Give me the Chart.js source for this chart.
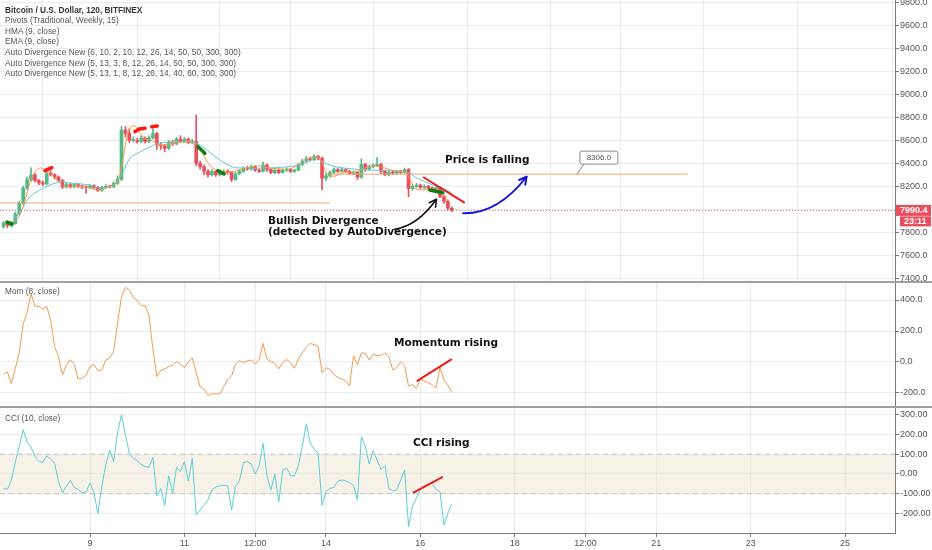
<!DOCTYPE html>
<html lang="en">
<head>
<meta charset="UTF-8">
<title>Bitcoin / U.S. Dollar, 120, BITFINEX</title>
<script src="https://cdn.jsdelivr.net/npm/chart.js"></script>
<style>
  body { margin: 0; background: #fff; width: 932px; height: 550px; overflow: hidden; position: relative;
         font-family: "Liberation Sans", Arial, sans-serif; }
  canvas { position: absolute; left: 0; }
  .sep { position: absolute; left: 0; width: 932px; height: 2px; background: #a0a0a0; }
  .txt { position: absolute; white-space: nowrap; }
  .legend { left: 5px; top: 4.7px; font-size: 8.3px; line-height: 10.6px; color: #555; }
  .legend b { color: #333; }
  .pane { left: 5px; font-size: 8.3px; color: #555; }
  .note { font-family: "DejaVu Sans", Verdana, sans-serif; font-weight: bold; font-size: 10.5px;
          line-height: 11px; color: #111; }
</style>
</head>
<body>
<canvas id="priceChart" width="932" height="282" style="top:0"></canvas>
<canvas id="momChart" width="932" height="123" style="top:283px"></canvas>
<canvas id="cciChart" width="932" height="142" style="top:408px"></canvas>
<div class="sep" style="top:281px"></div>
<div class="sep" style="top:406px"></div>

<div class="txt legend">
  <b>Bitcoin / U.S. Dollar, 120, BITFINEX</b><br>
  Pivots (Traditional, Weekly, 15)<br>
  HMA (9, close)<br>
  EMA (9, close)<br>
  Auto Divergence New (6, 10, 2, 10, 12, 26, 14, 50, 50, 300, 300)<br>
  Auto Divergence New (5, 13, 3, 8, 12, 26, 14, 50, 50, 300, 300)<br>
  Auto Divergence New (5, 13, 1, 8, 12, 26, 14, 40, 60, 300, 300)
</div>
<div class="txt pane" style="top:286px">Mom (8, close)</div>
<div class="txt pane" style="top:413px">CCI (10, close)</div>

<div class="txt note" style="left:445px; top:154px">Price is falling</div>
<div class="txt note" style="left:268px; top:215px">Bullish Divergence<br>(detected by AutoDivergence)</div>
<div class="txt note" style="left:394px; top:337px">Momentum rising</div>
<div class="txt note" style="left:413px; top:437px">CCI rising</div>

<script>
// 2h candles, index 0 = Mar 7 04:00, index 22 = Mar 9 00:00
const firstOpen = 7850;
const closes = [
  7880, 7860, 7875, 7960, 8050, 8185, 8255, 8300, 8250, 8230,
  8220, 8310, 8300, 8280, 8250, 8195, 8215, 8195, 8215, 8200,
  8195, 8190, 8205, 8190, 8165, 8190, 8200, 8195, 8225, 8260,
  8690, 8660, 8600, 8600, 8590, 8620, 8590, 8620, 8660, 8560,
  8550, 8530, 8580, 8570, 8610, 8590, 8610, 8580, 8590, 8400,
  8370, 8330, 8300, 8330, 8300, 8310, 8330, 8320, 8260, 8310,
  8330, 8355, 8350, 8370, 8340, 8330, 8385, 8345, 8320, 8340,
  8320, 8340, 8345, 8330, 8340, 8390, 8420, 8440, 8430, 8460,
  8445, 8270, 8290, 8320, 8345, 8330, 8345, 8330, 8310, 8320,
  8280, 8390, 8350, 8370, 8380, 8390, 8330, 8300, 8320, 8315,
  8330, 8320, 8345, 8180, 8200, 8210, 8190, 8200, 8185, 8175,
  8190, 8110, 8070, 8010, 7990.4
];
const highs = [
  7895, 7890, 7890, 7975, 8070, 8200, 8280, 8360, 8310, 8260,
  8245, 8330, 8335, 8310, 8290, 8260, 8230, 8225, 8225, 8225,
  8210, 8205, 8215, 8215, 8200, 8200, 8215, 8210, 8240, 8290,
  8720, 8720, 8700, 8630, 8620, 8640, 8630, 8640, 8700, 8670,
  8580, 8565, 8600, 8600, 8625, 8640, 8625, 8620, 8610, 8820,
  8420, 8385, 8345, 8345, 8340, 8325, 8345, 8345, 8330, 8320,
  8345, 8370, 8375, 8385, 8380, 8350, 8410, 8395, 8355, 8350,
  8350, 8350, 8360, 8355, 8350, 8400, 8435, 8460, 8455, 8475,
  8470, 8455, 8310, 8335, 8360, 8355, 8360, 8355, 8340, 8335,
  8330, 8440, 8400, 8385, 8395, 8450, 8400, 8340, 8330, 8330,
  8340, 8340, 8360, 8355, 8215, 8225, 8220, 8215, 8210, 8195,
  8205, 8195, 8120, 8080, 8020
];
const lows = [
  7835, 7840, 7845, 7870, 7950, 8040, 8170, 8245, 8235, 8215,
  8205, 8215, 8290, 8265, 8240, 8180, 8185, 8185, 8190, 8190,
  8180, 8140, 8180, 8180, 8155, 8155, 8180, 8185, 8190, 8215,
  8250, 8630, 8580, 8585, 8575, 8580, 8575, 8580, 8610, 8520,
  8520, 8500, 8520, 8555, 8560, 8580, 8580, 8570, 8570, 8380,
  8350, 8300, 8280, 8290, 8285, 8290, 8300, 8305, 8240, 8250,
  8300, 8320, 8340, 8340, 8330, 8320, 8325, 8330, 8310, 8310,
  8310, 8315, 8330, 8320, 8320, 8335, 8380, 8410, 8420, 8425,
  8430, 8170, 8250, 8280, 8310, 8320, 8325, 8320, 8300, 8300,
  8260, 8270, 8330, 8340, 8360, 8370, 8310, 8290, 8290, 8305,
  8310, 8310, 8315, 8110, 8165, 8190, 8180, 8180, 8175, 8160,
  8165, 8100, 8050, 7995, 7980
];

// HMA (9) and EMA (9) read at candle positions
const hmaIdx = [1.65, 3.7, 5.5, 6.7, 8, 9.3, 10.6, 11.8, 13.1, 14.4, 15.6, 17.4, 19.5, 22, 24.5, 27.1, 28.9, 30.1, 31.4, 32.4,
  33.4, 34.7, 36, 37.2, 38.5, 39.8, 42.3, 44.9, 47.4, 48.9, 50.5, 52, 53.8, 55.6, 57.6, 60.1, 62.7, 65.2, 67.8, 70.3,
  72.8, 75.4, 77.9, 79.9, 81.2, 82.5, 84.3, 86.8, 89.4, 91.9, 94.4, 97, 99.5, 102.1, 103.4, 104.6, 105.9, 108.4, 111, 113.5];
const hmaVals = [7872, 7924, 8081, 8229, 8324, 8359, 8342, 8307, 8272, 8229, 8194, 8203, 8203, 8185, 8168, 8203, 8237, 8385, 8629, 8716,
  8725, 8664, 8612, 8603, 8585, 8559, 8568, 8585, 8594, 8568, 8499, 8403, 8342, 8324, 8324, 8342, 8368, 8377, 8359, 8351,
  8351, 8394, 8446, 8455, 8385, 8298, 8290, 8324, 8324, 8359, 8377, 8359, 8333, 8324, 8255, 8185, 8168, 8176, 8159, 8055];
const emaIdx = [1.65, 4.2, 6.7, 9.3, 11.8, 14.4, 16.9, 22, 24.5, 27.8, 29.1, 30.4, 32.2, 34.7, 37.2, 39.8, 43.6, 48.2, 50, 51.7,
  55, 58.3, 60.9, 67, 75.4, 79.7, 81.2, 84.8, 92.4, 102.6, 105.1, 109.2, 111.7, 114];
const emaVals = [7863, 7976, 8107, 8168, 8211, 8237, 8229, 8211, 8185, 8211, 8255, 8324, 8446, 8499, 8542, 8577, 8585, 8585, 8559, 8516,
  8429, 8368, 8359, 8359, 8385, 8446, 8411, 8368, 8342, 8324, 8272, 8211, 8185, 8142];

// Pivot levels
const pivotLow = 8055;
const pivotHigh = 8306;
const lastPrice = 7990.4;

// Divergence marks: [idx, price] pairs
const bearMarks = [[[10.55, 8336], [12.25, 8362]], [[33.4, 8675], [34.5, 8698], [36, 8705]], [[37.7, 8718], [39.1, 8725]]];
const bullMarks = [[[0.9, 7889], [2.2, 7872]], [[49.45, 8545], [51.2, 8487]], [[54.5, 8336], [56.1, 8307]], [[108.4, 8168], [111.7, 8144]]];
const priceTrend = [[106.7, 8281], [117.3, 8055]];

// Mom (8, close)
const momVals = [
  -77, -65, -140, -41, 60, 245, 320, 440, 362, 358,
  342, 360, 270, 100, 32, -84, -20, 15, -15, -110,
  -104, -86, -30, -16, -56, -50, 12, 25, 70, 250,
  420, 482, 465, 415, 397, 363, 365, 300, 80, -95,
  -54, -45, -30, -20, 2, -12, -38, 2, 26, -68,
  -159, -175, -215, -205, -205, -206, -160, -113, -90, -15,
  9, -4, 8, 13, -13, 12, 120, 17, 3, -9,
  -44, -4, 17, -6, -40, 19, 60, 95, 120, 112,
  100, -70, -37, -47, -82, -100, -110, -120, -155, 39,
  -19, 58, 56, 13, 52, 40, 44, 58, 33, -52,
  -34, 0, -24, -155, -145, -170, -112, -121, -133, -147,
  -168, -34, -115, -150, -191
];
const momTrend = [[105.1, -123], [114, 19]];

// CCI (10, close)
const cciVals = [
  -73, -78, -31, 60, 140, 225, 162, 137, 88, 65,
  58, 92, 76, 55, -40, -95, -60, -33, -68, -78,
  -96, -90, -45, -95, -200, -62, 46, 122, 62, 210,
  300, 200, 105, 80, 68, 48, 38, 34, 85, -112,
  -73, -160, -10, -100, 34, 12, 63, -36, 80, -208,
  -183, -158, -130, -82, -65, -60, -57, -62, -183, -62,
  -35, 58, 63, 50, 0, 40, 156, -10, -81, 0,
  -141, 20, 30, -8, -10, 45, 140, 255, 156, 125,
  108, -160, -90, -73, -68, -36, -31, -34, -44, -56,
  -132, 190, 140, 50, 119, 70, 24, 41, -73, -86,
  -81, -31, 20, -268, -163, -124, -78, -68, -50, -47,
  -78, -90, -260, -200, -153
];
const cciTrend = [[104.1, -96], [111.7, -15]];
const cciBand = [100, -100];

// x axis: ticks at candle index (day marks)
const xTicks = [22, 46, 64, 82, 106, 130, 148, 166, 190, 214];
const xTickLabels = ['9', '11', '12:00', '14', '16', '18', '12:00', '21', '23', '25'];
const xMin = -0.89, xMax = 226.7;

const priceTicks = [7400, 7600, 7800, 8000, 8200, 8400, 8600, 8800, 9000, 9200, 9400, 9600, 9800];
const momTicks = [-200, 0, 200, 400];
const cciTicks = [-200, -100, 0, 100, 200, 300];

const gridColor = 'rgba(205, 214, 222, 0.45)';
const axisColor = '#7b7b7b';
const labelColor = '#555';
const axisFont = { family: 'Liberation Sans', size: 9 };
const green = '#53b987', red = '#eb4d5c';

const opens = closes.map((c, i) => i === 0 ? firstOpen : closes[i - 1]);
const candleColors = closes.map((c, i) => c >= opens[i] ? green : red);
const pts = (xs, ys) => xs.map((x, k) => ({ x: x, y: ys[k] }));
const pairs = arr => arr.map(p => ({ x: p[0], y: p[1] }));
const lineDs = (data, color, width, extra) => Object.assign({
  type: 'line', data: data, borderColor: color, borderWidth: width, pointRadius: 0, fill: false
}, extra || {});

function xScale(showLabels) {
  return {
    type: 'linear', min: xMin, max: xMax, offset: false,
    afterBuildTicks: s => { s.ticks = xTicks.map(v => ({ value: v })); },
    afterFit: s => { s.height = showLabels ? 17 : 0; s.paddingLeft = 0; s.paddingRight = 0; },
    grid: { color: gridColor, drawTicks: showLabels, tickLength: 4, tickColor: axisColor },
    border: { display: showLabels, color: axisColor },
    ticks: {
      display: showLabels, autoSkip: false, maxRotation: 0, padding: 1,
      font: axisFont, color: labelColor,
      callback: (v, i) => xTickLabels[i]
    }
  };
}

function yScale(min, max, ticks, digits) {
  return {
    position: 'right', min: min, max: max,
    afterBuildTicks: s => { s.ticks = ticks.map(v => ({ value: v })); },
    afterFit: s => { s.width = 37; s.paddingTop = 0; s.paddingBottom = 0; },
    grid: { color: gridColor, tickLength: 4, tickColor: axisColor },
    border: { color: axisColor },
    ticks: { padding: 1, font: axisFont, color: labelColor, callback: v => Number(v).toFixed(digits) }
  };
}

const baseOptions = scales => ({
  responsive: false, animation: false,
  layout: { padding: 0 },
  plugins: {
    legend: { display: false }, tooltip: { enabled: false },
    filler: { drawTime: 'beforeDatasetsDraw' }
  },
  scales: scales
});

function arrow(ctx, p0, c, p1, color, width) {
  ctx.save();
  ctx.strokeStyle = color; ctx.lineWidth = width; ctx.lineCap = 'round'; ctx.lineJoin = 'round';
  ctx.beginPath(); ctx.moveTo(p0.x, p0.y); ctx.quadraticCurveTo(c.x, c.y, p1.x, p1.y); ctx.stroke();
  const a = Math.atan2(p1.y - c.y, p1.x - c.x);
  ctx.beginPath();
  ctx.moveTo(p1.x - 8 * Math.cos(a - 0.5), p1.y - 8 * Math.sin(a - 0.5));
  ctx.lineTo(p1.x, p1.y);
  ctx.lineTo(p1.x - 8 * Math.cos(a + 0.5), p1.y - 8 * Math.sin(a + 0.5));
  ctx.stroke();
  ctx.restore();
}

// drawings on the price pane, anchored in data coordinates
const priceDrawings = {
  id: 'priceDrawings',
  afterDatasetsDraw(chart) {
    const ctx = chart.ctx, x = chart.scales.x, y = chart.scales.y;
    const P = (i, p) => ({ x: x.getPixelForValue(i), y: y.getPixelForValue(p) });
    arrow(ctx, P(99.5, 7826), P(105.3, 7857), P(110.1, 8087), '#111', 1.6);
    arrow(ctx, P(116.9, 7965), P(125.7, 7959), P(133, 8283), '#1414d8', 2);
    // callout on the upper pivot line
    const tip = P(145.8, pivotHigh);
    ctx.save();
    ctx.strokeStyle = '#888'; ctx.lineWidth = 1; ctx.fillStyle = '#fff';
    ctx.beginPath(); ctx.moveTo(tip.x, tip.y); ctx.lineTo(tip.x + 7, tip.y - 10); ctx.stroke();
    ctx.beginPath(); ctx.roundRect(tip.x + 3, tip.y - 23, 38, 13, 2); ctx.fill(); ctx.stroke();
    ctx.fillStyle = '#555'; ctx.font = '8px "Liberation Sans"'; ctx.textAlign = 'center'; ctx.textBaseline = 'middle';
    ctx.fillText(pivotHigh.toFixed(1), tip.x + 22, tip.y - 16.5);
    ctx.restore();
  },
  afterDraw(chart) {
    const ctx = chart.ctx, yp = chart.scales.y.getPixelForValue(lastPrice);
    const left = chart.chartArea.right + 1;
    ctx.save();
    ctx.fillStyle = red;
    ctx.fillRect(left, yp - 5.5, 35, 11);
    ctx.fillRect(left + 4, yp + 6, 31, 10);
    ctx.fillStyle = '#fff'; ctx.font = 'bold 9px "Liberation Sans"'; ctx.textBaseline = 'middle'; ctx.textAlign = 'left';
    ctx.fillText(lastPrice.toFixed(1), left + 4, yp + 0.5);
    ctx.fillText('23:11', left + 8, yp + 11.5);
    ctx.restore();
  }
};

const idx = closes.map((c, i) => i);
const priceDatasets = [
  lineDs([{ x: xMin, y: lastPrice }, { x: xMax, y: lastPrice }], '#e57373', 1, { borderDash: [1, 2], order: 1 }),
  lineDs([{ x: xMin, y: pivotLow }, { x: 83, y: pivotLow }], '#f0a46c', 1, { order: 6 }),
  lineDs([{ x: 83, y: pivotHigh }, { x: 174, y: pivotHigh }], '#f0a46c', 1, { order: 6 }),
  lineDs(pts(emaIdx, emaVals), '#5ec8d6', 1, { tension: 0.35, order: 4 }),
  lineDs(pts(hmaIdx, hmaVals), '#f59a45', 1, { tension: 0.35, order: 3 }),
  lineDs(pairs(priceTrend), '#e81c1c', 2, { order: 0 }),
  {
    type: 'bar', data: idx.map(i => ({ x: i, y: [lows[i], highs[i]] })),
    backgroundColor: candleColors, barThickness: 1, grouped: false, order: 8
  },
  {
    type: 'bar', data: idx.map(i => ({ x: i, y: [opens[i], closes[i]] })),
    backgroundColor: candleColors, barThickness: 3, minBarLength: 1, grouped: false, order: 7
  }
];
bearMarks.forEach(m => priceDatasets.push(lineDs(pairs(m), '#ff1616', 3.5, { order: 2, borderCapStyle: 'round' })));
bullMarks.forEach(m => priceDatasets.push(lineDs(pairs(m), '#137a13', 3.5, { order: 2, borderCapStyle: 'round' })));

new Chart(document.getElementById('priceChart'), {
  type: 'bar',
  data: { datasets: priceDatasets },
  options: baseOptions({ x: xScale(false), y: yScale(7367.4, 9820.8, priceTicks, 1) }),
  plugins: [priceDrawings]
});

new Chart(document.getElementById('momChart'), {
  type: 'line',
  data: {
    datasets: [
      lineDs(pairs(momTrend), '#e81c1c', 2),
      lineDs(pts(idx, momVals), '#f39a4e', 1)
    ]
  },
  options: baseOptions({ x: xScale(false), y: yScale(-283.9, 509.7, momTicks, 1) })
});

new Chart(document.getElementById('cciChart'), {
  type: 'line',
  data: {
    datasets: [
      lineDs(pairs(cciTrend), '#e81c1c', 2),
      lineDs(pts(idx, cciVals), '#5ccfd6', 1),
      lineDs([{ x: xMin, y: cciBand[0] }, { x: xMax, y: cciBand[0] }], '#c4c4c4', 1, { borderDash: [5, 4] }),
      lineDs([{ x: xMin, y: cciBand[1] }, { x: xMax, y: cciBand[1] }], '#c4c4c4', 1,
        { borderDash: [5, 4], fill: '-1', backgroundColor: 'rgba(238, 226, 204, 0.45)' })
    ]
  },
  options: baseOptions({ x: xScale(true), y: yScale(-299.5, 335, cciTicks, 2) })
});
</script>
</body>
</html>
